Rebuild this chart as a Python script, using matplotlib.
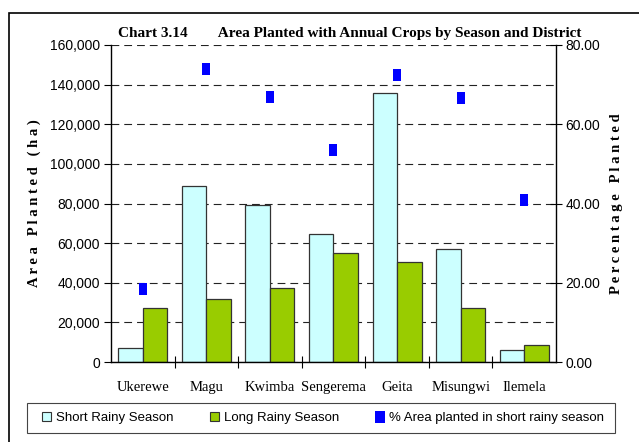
import matplotlib.pyplot as plt
import numpy as np
from matplotlib.patches import Rectangle, Patch
from matplotlib.lines import Line2D

districts = ['Ukerewe', 'Magu', 'Kwimba', 'Sengerema', 'Geita', 'Misungwi', 'Ilemela']
short_rainy = [7000, 89000, 79000, 64500, 136000, 57000, 6000]
long_rainy = [27500, 32000, 37500, 55000, 50500, 27500, 8500]
pct_short = [18.5, 74.0, 67.0, 53.5, 72.5, 66.5, 41.0]

SANS = 'Liberation Sans'
SERIF = 'Liberation Serif'

fig = plt.figure(figsize=(6.39, 4.42), dpi=100)
fig.patch.set_facecolor('white')

# outer chart border (cut off at right and bottom in the reference)
fig.patches.append(Rectangle((9 / 639, -0.05), 1.0, 1 - 13 / 442 + 0.05,
                             transform=fig.transFigure, fill=False,
                             edgecolor='black', linewidth=1.2))

ax = fig.add_axes([111 / 639, 1 - 362 / 442, (556 - 111) / 639, (362 - 45) / 442])
x = np.arange(len(districts))
w = 0.385
ax.bar(x - w / 2, short_rainy, w, color='#CCFFFF', edgecolor='#333333', linewidth=0.9, zorder=2)
ax.bar(x + w / 2, long_rainy, w, color='#99CC00', edgecolor='#333333', linewidth=0.9, zorder=2)

ax.set_xlim(-0.5, len(districts) - 0.5)
ax.set_ylim(0, 160000)
ax.set_yticks(np.arange(0, 160001, 20000))
ax.set_yticklabels([f'{v:,}' for v in range(0, 160001, 20000)], fontsize=10, family=SANS)
ax.yaxis.grid(True, linestyle=(0, (7, 4.5)), color='#222222', linewidth=0.8, zorder=0)
ax.set_axisbelow(True)

ax.set_xticks(np.arange(0.5, len(districts) - 0.5, 1.0))
ax.set_xticklabels([])
ax.set_xticks(x, minor=True)
ax.set_xticklabels(districts, minor=True, fontsize=10.5, family=SERIF)
ax.tick_params(axis='x', which='major', direction='inout', length=8, width=0.8)
ax.tick_params(axis='x', which='minor', length=0, pad=14)
ax.tick_params(axis='y', direction='out', length=5, width=0.8, pad=3)

for s in ['top', 'right']:
    ax.spines[s].set_visible(False)
ax.spines['left'].set_linewidth(1.0)
ax.spines['bottom'].set_linewidth(1.0)

ax.set_ylabel('A r e a   P l a n t e d   ( h a )', fontsize=10.5, family=SERIF,
              fontweight='bold', labelpad=6)

ax2 = ax.twinx()
ax2.set_ylim(0, 80)
ax2.set_yticks(np.arange(0, 81, 20))
ax2.set_yticklabels([f'{v:.2f}' for v in range(0, 81, 20)], fontsize=10, family=SANS)
ax2.tick_params(axis='y', direction='inout', length=8, width=0.8, pad=3)
for s in ['top', 'left', 'bottom']:
    ax2.spines[s].set_visible(False)
ax2.spines['right'].set_linewidth(1.0)

rect = [(-0.4, -0.5), (0.4, -0.5), (0.4, 0.5), (-0.4, 0.5), (-0.4, -0.5)]
ax2.plot(x, pct_short, linestyle='none', marker=rect, markersize=8,
         color='#0000FF', markeredgewidth=0, zorder=3)
ax2.set_ylabel('P e r c e n t a g e   P l a n t e d', fontsize=10.5, family=SERIF,
               fontweight='bold', labelpad=7)

fig.text(350 / 639, 1 - 33 / 442,
         'Chart 3.14        Area Planted with Annual Crops by Season and District',
         ha='center', va='center', fontsize=11, family=SERIF, fontweight='bold')

# legend box drawn separately, entries spread inside it
fig.patches.append(Rectangle((27 / 639, 1 - 433 / 442), 588 / 639, 30 / 442,
                             transform=fig.transFigure, fill=False,
                             edgecolor='#444444', linewidth=0.8))
handles = [
    Patch(facecolor='#CCFFFF', edgecolor='#333333', linewidth=0.8),
    Patch(facecolor='#99CC00', edgecolor='#333333', linewidth=0.8),
    Line2D([], [], linestyle='none', marker=rect, markersize=9, color='#0000FF', markeredgewidth=0),
]
labels = ['Short Rainy Season', 'Long Rainy Season', '% Area planted in short rainy season']
leg = fig.legend(handles, labels, loc='center',
                 bbox_to_anchor=(42 / 639, 1 - 433 / 442, 562 / 639, 30 / 442),
                 mode='expand', ncol=3, frameon=False,
                 prop={'family': SANS, 'size': 9.5}, handlelength=0.7, handleheight=0.7,
                 handletextpad=0.35, columnspacing=2.5, borderpad=0, borderaxespad=0)

fig.savefig('out.png', dpi=100)
